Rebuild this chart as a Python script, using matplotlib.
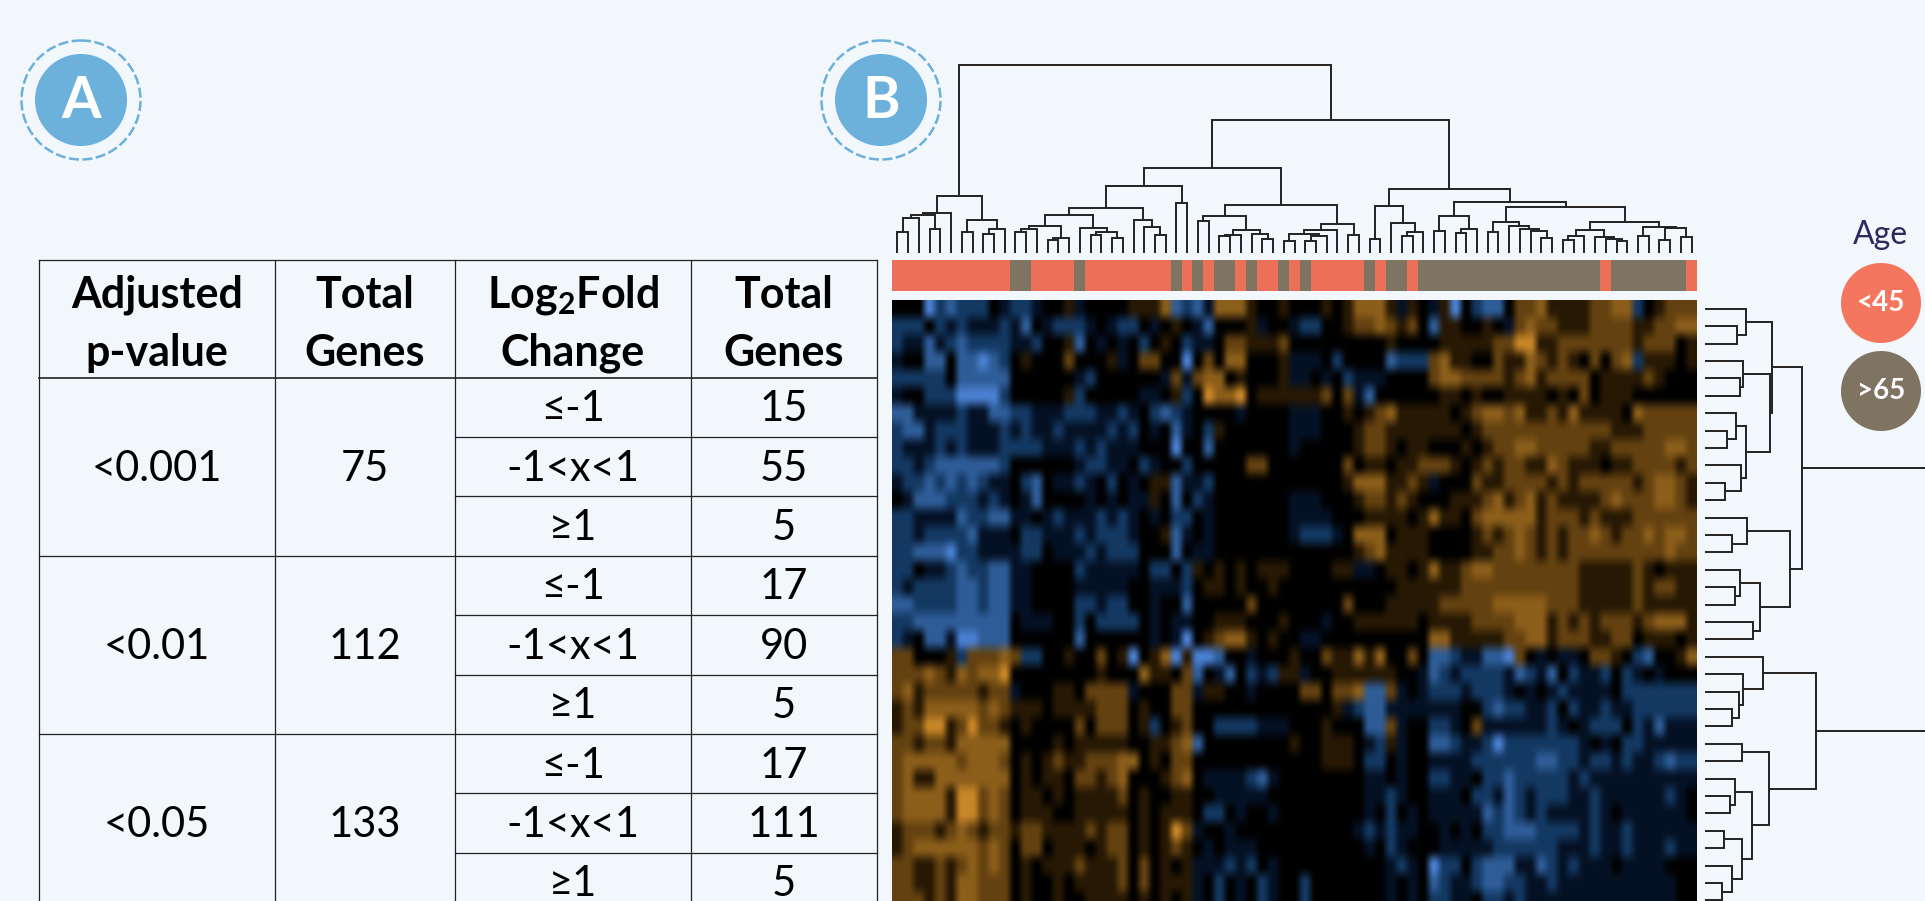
import matplotlib
matplotlib.use('Agg')
from matplotlib import pyplot as plt
from matplotlib.colors import LinearSegmentedColormap, ListedColormap
from matplotlib.patches import Circle
import numpy as np

plt.rcParams['font.family'] = ['Lato', 'DejaVu Sans']
plt.rcParams['mathtext.fontset'] = 'custom'
plt.rcParams['mathtext.bf'] = 'Lato:bold'
plt.rcParams['mathtext.rm'] = 'Lato'

# Table values
P_VALUES = ['<0.001', '<0.01', '<0.05']
P_TOTALS = ['75', '112', '133']
FC_LABELS = ['≤-1', '-1<x<1', '≥1']
FC_TOTALS = [['15', '55', '5'], ['17', '90', '5'], ['17', '111', '5']]

# Age group per heatmap column, as (group, number of columns)
AGE_RUNS = [(0, 11), (1, 2), (0, 4), (1, 1), (0, 8), (1, 1), (0, 1), (1, 1), (0, 1),
            (1, 2), (0, 1), (1, 1), (0, 2), (1, 1), (0, 1), (1, 1), (0, 5), (1, 1),
            (0, 1), (1, 2), (0, 1), (1, 17), (0, 1), (1, 7), (0, 1)]

# Heatmap levels, read cell by cell: . black, a-d blue, A-D orange (faint to bright)
HEAT_ROWS = [
    "...dbcbbb. abba..Aa.. ..AAACcbca CCCA..A... A.ACCCAaA. aAd.bcc.BB CAAAABBCCb .ABBB",
    "bbb.babaaa bac.abbba. abb.a.A.ac ...Aa..abb ..ABBCBAB. cAA..A.aBC BBAAABBBBA ABBCC",
    "baacabcbbb baab..Ac.a .a.b.A.baa .BBAAAB... ......A... .AAAAABBDD AABBBBBBBA BBB.A",
    "a..cc.ccdc b.A...B... Aa.BB..d.B .CC...Aaaa .b....cbbb BCAA..BAAC BABA.B.BCb AAA.A",
    "bbbbb.cccc c......ab. .....aBaBC C.A...Aaa. a.baaa.... BCCBBBBABC ABBBB.AAAA BA...",
    "a..bbbdddd b.....Ab.. ...aa.Ab.D CCD.AAAAAA B.Bac..... .AA.A..AAA A.A.B.AAA. .....",
    "ccaaaabaac cbbaaabbba aba.bcba.. ..a....aaa ..A.ABCAAA AA.ABCCBCA ABACAAAA.C BBBBB",
    "bccabbbaaa babaabaaaa bab.a.ca.b A......aaa ...ABBAAAA AAA.ABBBBB BBBBBBBAAA BBBBB",
    "baaababaaa bbbbaaabab aaa...d..c .......a.. ...ABBA.AA ...A.ABBCC BBBBBAABBB BBCCB",
    "bbabcccccc b......abb aa.ba..b.. ...BB..... ..B.AA.AAB BBA.ABABBA ACBAAA.AAB BBBAB",
    "abbcbcbcba a.bc.aaba. b.a.AAcaab .......... ..ACCCAABA a...BAABBB BABABBBBBA BCCBA",
    ".acccbbbab a.ac....a. a.aaA.c.ba .......aaa ...ABBABA. ..AAABCABC ABAAAABCBB BCCBA",
    "bbaaaacbbc caa.abaaab aba.a.bb.a .......aaa a...AAAA.A CAA.BCCCCC ABBBABAAAB BBBBB",
    "bbabbbbcaa a.bbaaabab bba..Aca.a .......abb ba.CCC.AAA ....ABABCB ABABBCBABB CBCCB",
    "bbcccdbbaa aabb.aaaba bbb...c.aa .......... ...ABCAAAA ....AABBCB ABABBBBBBB BBCBB",
    "bb.aabcbbc caa....baa aaa.bb.bA. A.A.AAA... .AAaa.AA.A CAABCCBBBB BBBBAAAAAB A.AAA",
    "babbbbccbc caa....aaa aa..aaab.A A.A..A.... .......AAA AAABBBBBBB BBBBAAAAAB ABBAA",
    "ccbbbbccbc caa....bba bb..a..c.. ...B...... ..B...AAAA ABBBBBCCCC CBBBAAAAAB AAAAA",
    "bbcccccccc c.aaa..b.b bbb.a.aa.. AAA...A... a..AAAAAA. AAAABBBBCC CABABABBBA BCCCA",
    "ba.ccaddcc c......c.. ....a.ad.A BCCA.A..aa .......... CCAAAAABBC CABBBAABB. AAA.A",
    "BB...AbBBB CBbb..A..B .Ad.ACdAdd c..a...A.. BAACAC..B. ccbaaccdB. a.aa.BBA.b c..AC",
    "BBBCBACBCC D........A ...CAA.Bc. ac.babAAa. .AAAAAA..a cbabbbbacb ac.baab.ba .a...",
    "BCABBBBBAB Ba...AA.BB BBa...BBaA A..a....BB .BBCccBa.a bbbabbba.a .abaaaa.bb bbbbb",
    "ABACCCCCBC BAAA.AAAAB BB.A..BB.. .......... .Aabccaaaa aaa..bcbba ab.baabaab bbbbb",
    "ABBDDABDBB A.A....B.B BB.Ab.AB.. bbbbaaa... A...ccBa.. bba.Baaaaa aba.abbb.b acaaa",
    "BBABBACCCC C....A.AAA AA..AABCc. .......A.. AAA.abAa.. ccbaabdbbb bbbba.a.bb aaaaa",
    "BCCCCCBCCC B.A.ABAABB BCC.A.BB.. .......... AAA.bb.a.. aaaabbbbbb ccbbabbaba abcbb",
    "BCAACCCCCC C.A.AA.BBA BC...ABC.a aaabca.... ....aa.a.. bbaa.bbcbb bbbabaaaaa aaaaa",
    "BCCCCADDBC B.AA.A.AAA AB.A..AA.. aaaaa..... ....aaba.. aaa.bbacba bbbaabaaaa aaba.",
    "BCCCCADDBC B.AAA..AAA AA.A.AAA.b b.a..a.... ....a.b.a. aaaaacbcba baaaaba.aa aaaa.",
    "ABBBABCBAB BABBAAAABA BB.A.ADBa. .a........ ...ababaa. .a.a.bbccc bbbbabaaba aaaaa",
    "ABCCCCCCBC B.BB.AAA.A BB.A.ABA.a .aaa...... ....a.ba.. .aaaaabbbb bbaaabaaba aabaa",
    "BBAABABCBC B.A.AAABAA AB.B.A.Aaa abab.a.... ......aba. dbb.bcccaa cbabaaa.aa aa...",
    "BBAABACCBB B.A..A.AAA AB.B.AAAa. b.a.ba..b. ......a.a. cbaabccbba abaaaaaaaa aaa..",
    "BBBABACCBB B.A..A..AA AA.A.A.Aa. b.a.ba..b. ......a.a. bbaa.bbaba aaaaaaaaaa aaa..",
]
LEVELS = {'.': 0, 'a': -1, 'b': -2, 'c': -3, 'd': -4, 'A': 1, 'B': 2, 'C': 3, 'D': 4}

# Column dendrogram: (merge height, left, right), leaves are column numbers
COL_GROUP_1 = (56.7,
               (40, (37.7, (35, (20.7, 0, 1), 2), (24, 3, 4)), 5),
               (32.7, (20.7, 6, 7), (24, (19.3, 8, 9), 10)))
COL_GROUP_2 = (66.7,
               (45,
                (38.3,
                 (27.3, (24, (20.7, 11, 12), 13), (15, (13.3, 14, 15), 16)),
                 (25, 17, (20.7, (18.3, 18, 19), (15, 20, 21)))),
                (33.3, 22, (26, 23, (18.3, 24, 25)))),
               (50, 26, 27))
COL_GROUP_3 = (48.3,
               (36.7,
                (31.7, 28, 29),
                (22.7, (18.3, (16.7, 30, 31), 32), (19.3, 33, (14, 34, 35)))),
               (29,
                (22.7, (19.3, (11.7, 36, 37), (16.7, (11.7, 38, 39), 40)), 41),
                (18.3, 42, 43)))
COL_GROUP_4 = (64.3,
               (47.3, (14.3, 44, 45), (30, 46, (20.7, (17.3, 47, 48), 49))),
               (51,
                (36.7, (21.7, 50, 51), (24, (20, 52, 53), 54)),
                (45.7,
                 (30.7, (20.7, 55, 56), (27.3, 57, (24, 58, (21.7, 59, (15, 60, 61))))),
                 (31,
                  (22.7, (16.7, (12.7, 62, 63), 64), (16, 65, (14, 66, (11.7, 67, 68)))),
                  (26, (16.7, 69, 70), (25, (13.3, 71, 72), (16, 73, 74)))))))
COL_TREE = (187.7, COL_GROUP_1, (132.7, (85, COL_GROUP_2, COL_GROUP_3), COL_GROUP_4))

# Row dendrogram, the root joins somewhere past the edge of the picture
ROW_GROUP_1 = (97.3,
               (66.7,
                (40.7, 0, (31.7, 1, 2)),
                (65,
                 (38.3, 3, (35, 4, 5)),
                 (40.7, (31, 6, (21.7, 7, 8)), (36, 9, (20, 10, 11))))),
               (85,
                (41.7, 12, (27.3, 13, 14)),
                (55, (35, 15, (30, 16, 17)), (48.3, 18, 19))))
ROW_GROUP_2 = (111,
               (58.3, 20, (38.3, 21, (34.3, 22, (27.3, 23, 24)))),
               (64.3,
                (36.7, 25, 26),
                (46.7,
                 (30, 27, (25, 28, 29)),
                 (36.7, (19, 30, 31), (26.7, 32, (16.7, 33, 34))))))
ROW_TREE = (300, ROW_GROUP_1, ROW_GROUP_2)

WIDTH, HEIGHT = 1925, 901
BG = '#f2f7fc'
SALMON = '#ec6f58'
GREY = '#7f7461'
BADGE = '#6cb0dc'
LINE = '#222222'
HEAD_SIZE = 31
BODY_SIZE = 30


def px_axes(fig, x0, y0, x1, y1):
    # Axes placed by pixel box, y counted from the top of the picture
    ax = fig.add_axes([x0 / WIDTH, 1 - y1 / HEIGHT, (x1 - x0) / WIDTH, (y1 - y0) / HEIGHT])
    ax.axis('off')
    return ax


def draw_tree(ax, node, horizontal=False):
    # Returns position and height of the node after drawing its children
    if isinstance(node, int):
        return node + 0.5, 0
    h, left, right = node
    p1, h1 = draw_tree(ax, left, horizontal)
    p2, h2 = draw_tree(ax, right, horizontal)
    pos = [p1, p1, p2, p2]
    hts = [h1, h, h, h2]
    if horizontal:
        ax.plot(hts, pos, color=LINE, lw=1.4, solid_joinstyle='miter')
    else:
        ax.plot(pos, hts, color=LINE, lw=1.4, solid_joinstyle='miter')
    return (p1 + p2) / 2, h


def draw_badge(ax, x, y, letter):
    ax.add_patch(Circle((x, y), 46, color=BADGE, lw=0))
    ax.add_patch(Circle((x, y), 59.5, fill=False, edgecolor=BADGE, lw=1.8, ls=(0, (4, 1.4))))
    ax.text(x, y + 1, letter, color='white', fontsize=41, ha='center', va='center', fontweight='bold')


def draw_table(ax):
    cols = [38.5, 275, 455, 691, 877]
    top, head, row_h = 260, 377.5, 59.4
    n_rows = 9
    bottom = head + n_rows * row_h

    ax.plot([cols[0], cols[-1]], [top, top], color=LINE, lw=0.9)
    ax.plot([cols[0], cols[-1]], [head, head], color=LINE, lw=1.2)
    for x in cols:
        ax.plot([x, x], [top, bottom], color=LINE, lw=0.9)

    # Row lines, the first two columns are merged over each p-value block
    for r in range(1, n_rows + 1):
        y = head + r * row_h
        x0 = cols[0] if r % 3 == 0 else cols[2]
        ax.plot([x0, cols[-1]], [y, y], color=LINE, lw=0.9)

    # Header
    headers = [('Adjusted', 'p-value'), ('Total', 'Genes'),
               (r'$\mathbf{Log_2Fold}$', 'Change'), ('Total', 'Genes')]
    for i, (line1, line2) in enumerate(headers):
        xc = (cols[i] + cols[i + 1]) / 2
        ax.text(xc, 295, line1, fontsize=HEAD_SIZE, fontweight='bold', ha='center', va='center')
        ax.text(xc, 353, line2, fontsize=HEAD_SIZE, fontweight='bold', ha='center', va='center')

    for b in range(3):
        yc = head + (b * 3 + 1.5) * row_h + 2
        ax.text((cols[0] + cols[1]) / 2, yc, P_VALUES[b], fontsize=BODY_SIZE, ha='center', va='center')
        ax.text((cols[1] + cols[2]) / 2, yc, P_TOTALS[b], fontsize=BODY_SIZE, ha='center', va='center')
        for k in range(3):
            y = head + (b * 3 + k + 0.5) * row_h + 2
            ax.text((cols[2] + cols[3]) / 2, y, FC_LABELS[k], fontsize=BODY_SIZE, ha='center', va='center')
            ax.text((cols[3] + cols[4]) / 2, y, FC_TOTALS[b][k], fontsize=BODY_SIZE, ha='center', va='center')


fig = plt.figure(figsize=(WIDTH / 100, HEIGHT / 100), dpi=100, facecolor=BG)

# Heatmap, it runs past the bottom of the picture
heat = np.array([[LEVELS[c] for c in row.replace(' ', '')] for row in HEAT_ROWS], dtype=float)
heat_cmap = LinearSegmentedColormap.from_list(
    'blue_orange',
    [(0.0, '#4a80d2'), (0.125, '#2f5d98'), (0.25, '#143963'), (0.375, '#051226'),
     (0.5, '#000000'),
     (0.625, '#261804'), (0.75, '#634110'), (0.875, '#8a5d1a'), (1.0, '#c98628')])
ax_heat = px_axes(fig, 892, 300, 1697, 909)
ax_heat.imshow(heat, cmap=heat_cmap, vmin=-4, vmax=4, aspect='auto',
               interpolation='hermite', interpolation_stage='rgba')

# Age colour bar
ages = np.repeat([g for g, n in AGE_RUNS], [n for g, n in AGE_RUNS]).reshape(1, -1)
ax_bar = px_axes(fig, 892, 260, 1697, 291)
ax_bar.imshow(ages, cmap=ListedColormap([SALMON, GREY]), aspect='auto', interpolation='nearest')

# Dendrograms
ax_top = px_axes(fig, 892, 60, 1697, 253)
ax_top.set_xlim(0, 75)
ax_top.set_ylim(0, 193)
draw_tree(ax_top, COL_TREE)

ax_right = px_axes(fig, 1705, 300, 1925, 909)
ax_right.set_xlim(0, 220)
ax_right.set_ylim(35, 0)
draw_tree(ax_right, ROW_TREE, horizontal=True)

# Everything else is placed on a pixel canvas
canvas = px_axes(fig, 0, 0, WIDTH, HEIGHT)
canvas.set_xlim(0, WIDTH)
canvas.set_ylim(HEIGHT, 0)

draw_badge(canvas, 81, 100, 'A')
draw_badge(canvas, 881, 100, 'B')
draw_table(canvas)

# Age legend
canvas.text(1880, 235, 'Age', color='#2b2a5e', fontsize=23, ha='center', va='center')
canvas.add_patch(Circle((1881, 303), 40, color='#f4765f', lw=0))
canvas.add_patch(Circle((1881, 391), 40, color=GREY, lw=0))
canvas.text(1881, 303, '<45', color='white', fontsize=20, ha='center', va='center', fontweight='bold')
canvas.text(1881, 391, '>65', color='white', fontsize=20, ha='center', va='center', fontweight='bold')

plt.savefig('out.png', dpi=100, facecolor=BG)
plt.close()
